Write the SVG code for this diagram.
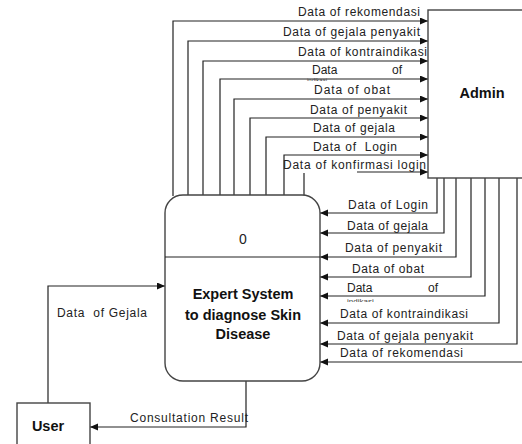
<svg xmlns="http://www.w3.org/2000/svg" width="522" height="444" viewBox="0 0 522 444">
<style>
  .ln{fill:none;stroke:#222;stroke-width:1.2}
  .bx{fill:#fff;stroke:#444;stroke-width:1.4}
  .lb{font-family:"Liberation Sans",Arial,sans-serif;font-size:12px;fill:#222}
  .fr{font-family:"Liberation Sans",Arial,sans-serif;fill:#444}
  .tt{font-family:"Liberation Sans",Arial,sans-serif;font-size:14.5px;font-weight:bold;fill:#111;text-anchor:middle}
</style>
<defs>
  <marker id="ah" markerWidth="9" markerHeight="8" refX="8" refY="3.5" orient="auto" markerUnits="userSpaceOnUse">
    <path d="M0,0 L8,3.5 L0,7 z" fill="#111"/>
  </marker>
  <clipPath id="c1"><rect x="300" y="76" width="80" height="5"/></clipPath>
  <clipPath id="c2"><rect x="340" y="297" width="80" height="5"/></clipPath>
</defs>
<rect width="522" height="444" fill="#fff"/>

<g id="connectors">
  <!-- Process to Admin (top) -->
  <path class="ln" marker-end="url(#ah)" d="M173,196 V21 H428"/>
  <path class="ln" marker-end="url(#ah)" d="M188,196 V41 H428"/>
  <path class="ln" marker-end="url(#ah)" d="M203,196 V61 H428"/>
  <path class="ln" marker-end="url(#ah)" d="M220,197 V79 H428"/>
  <path class="ln" marker-end="url(#ah)" d="M234,196 V99 H428"/>
  <path class="ln" marker-end="url(#ah)" d="M250,196 V118 H428"/>
  <path class="ln" marker-end="url(#ah)" d="M266,196 V137 H428"/>
  <path class="ln" marker-end="url(#ah)" d="M284,196 V155 H428"/>
  <path class="ln" d="M304,196 V173"/>
  <path class="ln" marker-end="url(#ah)" d="M357,172 H428"/>
  <!-- Admin to Process (right) -->
  <path class="ln" marker-end="url(#ah)" d="M437,178 V213 H320"/>
  <path class="ln" marker-end="url(#ah)" d="M444,178 V233 H320"/>
  <path class="ln" marker-end="url(#ah)" d="M456,178 V257 H320"/>
  <path class="ln" marker-end="url(#ah)" d="M471,178 V277 H320"/>
  <path class="ln" marker-end="url(#ah)" d="M485,178 V296 H320"/>
  <path class="ln" marker-end="url(#ah)" d="M499,178 V323 H320"/>
  <path class="ln" marker-end="url(#ah)" d="M517,178 V344 H320"/>
  <path class="ln" marker-end="url(#ah)" d="M524,362 H320"/>
  <!-- User to Process -->
  <path class="ln" marker-end="url(#ah)" d="M48,403 V286 H165"/>
  <!-- Process to User -->
  <path class="ln" marker-end="url(#ah)" d="M246,381 V427 H90"/>

  <!-- labels top -->
  <text class="lb" x="298" y="16" textLength="122" lengthAdjust="spacing">Data of rekomendasi</text>
  <text class="lb" x="283" y="36" textLength="137" lengthAdjust="spacing">Data of gejala penyakit</text>
  <text class="lb" x="298" y="56" textLength="129" lengthAdjust="spacing">Data of kontraindikasi</text>
  <text class="lb" x="312" y="74">Data</text>
  <text class="lb" x="392" y="74">of</text>
  <text class="fr" x="307" y="82" font-size="6" clip-path="url(#c1)">indikasi</text>
  <text class="lb" x="314" y="94" textLength="76" lengthAdjust="spacing">Data of obat</text>
  <text class="lb" x="310" y="114" textLength="97" lengthAdjust="spacing">Data of penyakit</text>
  <text class="lb" x="313" y="132" textLength="82" lengthAdjust="spacing">Data of gejala</text>
  <text class="lb" x="313" y="151" textLength="84" lengthAdjust="spacing" xml:space="preserve">Data of  Login</text>
  <text class="lb" x="283" y="169" textLength="143" lengthAdjust="spacing">Data of konfirmasi login</text>

  <!-- labels right -->
  <text class="lb" x="348" y="209" textLength="80" lengthAdjust="spacing">Data of Login</text>
  <text class="lb" x="347" y="230" textLength="81" lengthAdjust="spacing">Data of gejala</text>
  <text class="lb" x="345" y="252" textLength="97" lengthAdjust="spacing">Data of penyakit</text>
  <text class="lb" x="352" y="273" textLength="72" lengthAdjust="spacing">Data of obat</text>
  <text class="lb" x="347" y="292">Data</text>
  <text class="lb" x="428" y="292">of</text>
  <text class="fr" x="347" y="304" font-size="8" clip-path="url(#c2)">indikasi</text>
  <text class="lb" x="340" y="318" textLength="128" lengthAdjust="spacing">Data of kontraindikasi</text>
  <text class="lb" x="337" y="340" textLength="136" lengthAdjust="spacing">Data of gejala penyakit</text>
  <text class="lb" x="340" y="357" textLength="123" lengthAdjust="spacing">Data of rekomendasi</text>

  <!-- labels user -->
  <text class="lb" x="57" y="317" textLength="90" lengthAdjust="spacing" xml:space="preserve">Data  of Gejala</text>
  <text class="lb" x="130" y="422" textLength="118" lengthAdjust="spacing">Consultation Result</text>
</g>

<g id="process">
  <rect class="bx" x="165" y="195" width="155" height="186" rx="18" ry="18"/>
  <line class="ln" x1="165" y1="257" x2="320" y2="257"/>
  <text x="243" y="244" style="font-family:'Liberation Sans',Arial,sans-serif;font-size:14px;fill:#222;text-anchor:middle">0</text>
  <text class="tt" x="243" y="299">Expert System</text>
  <text class="tt" x="243" y="320">to diagnose Skin</text>
  <text class="tt" x="243" y="339">Disease</text>
</g>

<g id="admin">
  <rect class="bx" x="428" y="10" width="110" height="168"/>
  <text class="tt" x="482" y="98">Admin</text>
</g>

<g id="user">
  <rect class="bx" x="17" y="403" width="73" height="60"/>
  <text class="tt" x="48" y="431">User</text>
</g>
</svg>
